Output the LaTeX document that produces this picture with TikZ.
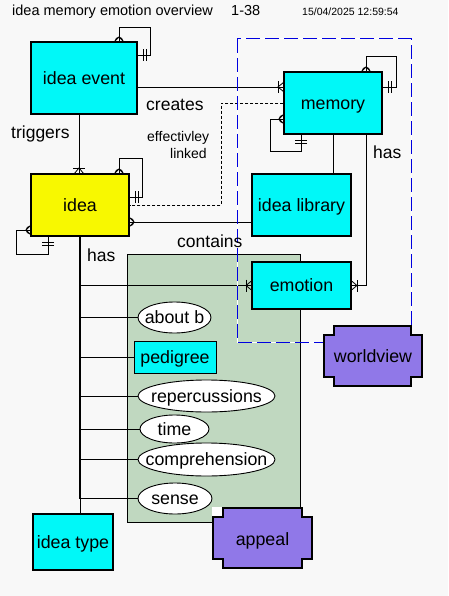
\documentclass[tikz,border=0pt]{standalone}
\usepackage{fontspec}
\setmainfont{Liberation Sans}
\usetikzlibrary{shapes.geometric}
\pgfdeclarelayer{back}\pgfdeclarelayer{mid}
\pgfsetlayers{back,mid,main}
\definecolor{bgc}{RGB}{248,248,248}
\definecolor{cyanbox}{RGB}{0,248,248}
\definecolor{yelbox}{RGB}{248,248,0}
\definecolor{grn}{RGB}{192,216,192}
\definecolor{purp}{RGB}{144,120,232}
\definecolor{dblue}{RGB}{0,0,224}
\newcommand\mkcirc[4]{%
 \draw[mk] ({#1+1*#3},{#2+1*#4}) circle[radius=3.8];
 \draw[mk] ({#1+5*#4},{#2+5*#3}) -- ({#1+5*#3},{#2+5*#4}) -- ({#1-5*#4},{#2-5*#3});}
\newcommand\mkbars[4]{%
 \draw[mk] ({#1+6*#3+6*#4},{#2+6*#4+6*#3}) -- ({#1+6*#3-6*#4},{#2+6*#4-6*#3});
 \draw[mk] ({#1+9*#3+6*#4},{#2+9*#4+6*#3}) -- ({#1+9*#3-6*#4},{#2+9*#4-6*#3});}
\newcommand\mkcrowbar[4]{%
 \draw[mk] ({#1+6*#3+6*#4},{#2+6*#4+6*#3}) -- ({#1+6*#3-6*#4},{#2+6*#4-6*#3});
 \draw[mk] ({#1+5*#4},{#2+5*#3}) -- ({#1+6*#3},{#2+6*#4}) -- ({#1-5*#4},{#2-5*#3});}
\begin{document}
\begin{tikzpicture}[x=1pt,y=-1pt,
  lbl/.style={font=\fontsize{17.8}{21}\selectfont,text height=16.1pt,text depth=3.8pt,inner sep=0pt},
  ent/.style={lbl,draw,line width=1.1pt,fill=cyanbox,rectangle},
  att/.style={lbl,rectangle},
  attl/.style={draw,line width=0.9pt,fill=white},
  con/.style={line width=0.9pt},
  mk/.style={line width=0.8pt},
  note/.style={font=\fontsize{17.5}{21}\selectfont,inner sep=0pt,anchor=base west},
  shp/.style={draw,line width=1.1pt,fill=purp},
]
\useasboundingbox (0,0) rectangle (448,596);
\begin{pgfonlayer}{back}
\fill[bgc] (0,0) rectangle (448,596);
\node[draw,line width=0.9pt,fill=grn,minimum width=173pt,minimum height=268pt,inner sep=0pt] (cont) at (213.5,388) {};
\end{pgfonlayer}

% entities
\node[ent,minimum width=106pt,minimum height=72pt] (ie) at (84,78) {idea event};
\node[ent,minimum width=98pt,minimum height=62pt] (mem) at (333,103) {memory};
\node[ent,fill=yelbox,minimum width=98pt,minimum height=62pt] (idea) at (80,205) {idea};
\node[ent,minimum width=99pt,minimum height=62pt] (lib) at (301.5,205) {idea library};
\node[ent,minimum width=99pt,minimum height=47pt] (emo) at (301.5,285.5) {emotion};
\node[att,minimum width=73pt,minimum height=31pt] (ab) at (174.5,317.5) {about b};
\node[ent,line width=0.9pt,minimum width=82pt,minimum height=32pt] (ped) at (175,357) {pedigree};
\node[att,minimum width=137pt,minimum height=32pt] (rep) at (206.5,396) {repercussions};
\node[att,minimum width=69pt,minimum height=28pt] (tim) at (174.5,429) {time};
\node[att,minimum width=137pt,minimum height=33pt] (comp) at (206.5,459.5) {comprehension};
\node[att,minimum width=74pt,minimum height=31pt] (sen) at (175,498.5) {sense};
\node[ent,minimum width=80pt,minimum height=56pt] (ity) at (73,542) {idea type};

\begin{pgfonlayer}{mid}
\coordinate (tx) at (79,0);
\coordinate (L1) at (150,27);
\coordinate (L2) at (396,56);
\coordinate (L3) at (270,151);
\coordinate (L4) at (142,158);
\coordinate (L5) at (16,254);
\coordinate (dk) at (221,205);
% connectors
\draw[con] ([yshift=-9pt]ie.east) coordinate (c1) -- (c1 -| mem.west);
\draw[con] (ie.south -| tx) -- (idea.north -| tx);
\draw[con] ([xshift=35pt]ie.north) |- (L1) |- ([yshift=23pt]ie.east);
\draw[con] ([xshift=33pt]mem.north) |- (L2) |- ([yshift=16pt]mem.east);
\draw[con] ([yshift=-16pt]mem.west) -| (L3) -| ([xshift=-32pt]mem.south);
\draw[con] ([xshift=39pt]idea.north) |- (L4) |- ([yshift=8pt]idea.east);
\draw[con] ([yshift=-25pt]idea.west) -| (L5) -| ([xshift=-32pt]idea.south);
\draw[con,dash pattern=on 3pt off 2pt] (mem.west) -| (dk) -- (idea.east);
\draw[con] ([yshift=-17pt]idea.east) coordinate (c2) -- (c2 -| lib.west);
\draw[con] (mem.south) -- (mem.south |- lib.north);
\draw[con] ([xshift=33pt]mem.south) |- (emo.east);
\draw[line width=2.2pt] (idea.south) -- (idea.south |- sen.west);
\draw[con] (idea.south |- sen.west) -- (idea.south |- ity.north);
\draw[con] (idea.south |- emo.west) -- (emo.west);
\foreach \n in {ab,ped,rep,tim,comp,sen} \draw[con] (idea.south |- \n.west) -- (\n.west);
% marks
\mkcirc{119}{42}{0}{-1}
\mkbars{137}{55}{1}{0}
\mkcrowbar{284}{87}{-1}{0}
\mkcirc{366}{72}{0}{-1}
\mkbars{382}{87}{1}{0}
\mkcirc{284}{119}{-1}{0}
\mkbars{301}{134}{0}{1}
\mkcirc{119}{174}{0}{-1}
\mkbars{129}{197}{1}{0}
\mkcirc{31}{230}{-1}{0}
\mkbars{48}{236}{0}{1}
\mkcrowbar{79}{174}{0}{-1}
\mkcirc{129}{222}{1}{0}
\mkcrowbar{351}{285.5}{1}{0}
\mkcrowbar{252}{285.5}{-1}{0}
% blue dashed frame
\coordinate (b1) at (237,39);
\coordinate (b2) at (411,342);
\draw[white,line width=1pt] (b1) rectangle (b2);
\draw[dblue,line width=1pt,dash pattern=on 14pt off 5pt] (b1) rectangle (b2);
% attribute ellipses
\draw[attl] (ab.center) ellipse[x radius=36.5,y radius=15.5];
\draw[attl] (rep.center) ellipse[x radius=68.5,y radius=16];
\draw[attl] (tim.center) ellipse[x radius=34.5,y radius=14];
\draw[attl] (comp.center) ellipse[x radius=68.5,y radius=16.5];
\draw[attl] (sen.center) ellipse[x radius=37,y radius=15.5];
\end{pgfonlayer}

% notched shapes
\fill[white] (212,507) rectangle (223,517);
\draw[shp] (223,508) -- (302,508) -- (302,517) -- (312,517) -- (312,559) -- (302,559) -- (302,568) -- (223,568) -- (223,559) -- (213,559) -- (213,517) -- (223,517) -- cycle;
\node[lbl] (ap) at (262.5,539) {appeal};
\draw[shp] (334,326) -- (411,326) -- (411,335) -- (422,335) -- (422,377) -- (411,377) -- (411,386) -- (334,386) -- (334,377) -- (324,377) -- (324,335) -- (334,335) -- cycle;
\node[lbl] (wv) at (373,356) {worldview};

% labels
\node[note] (cr) at (146,111) {creates};
\node[note] (tr) at (11,139) {triggers};
\node[note] (h1) at (87,261) {has};
\node[note] (h2) at (373,159) {has};
\node[note] (ct) at (177,247) {contains};
\node[note,font=\fontsize{14}{16}\selectfont] (el1) at (147,142) {effectivley};
\node[note,font=\fontsize{14}{16}\selectfont] (el2) at (170,159) {linked};

% title
\node[anchor=base west,inner sep=0pt,font=\fontsize{14.5}{17}\selectfont] (t1) at (12,16) {idea memory emotion overview};
\node[anchor=base west,inner sep=0pt,font=\fontsize{14.5}{17}\selectfont] (t2) at (231,16) {1-38};
\node[anchor=base west,inner sep=0pt,font=\fontsize{10.5}{12}\selectfont] (t3) at (302,16) {15/04/2025 12:59:54};
\end{tikzpicture}
\end{document}
